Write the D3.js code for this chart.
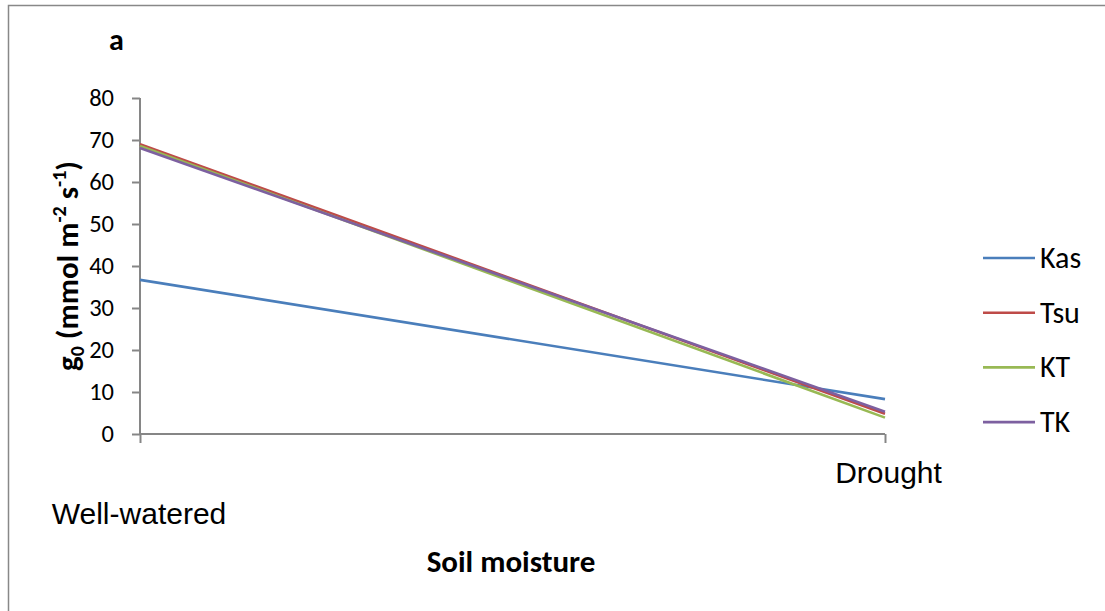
<!DOCTYPE html>
<html>
<head>
<meta charset="utf-8">
<script src="https://cdn.jsdelivr.net/npm/d3@7"></script>
<style>
  body { margin: 0; background: #fff; }
  svg { font-family: Carlito, Lato, "Open Sans", sans-serif; }
</style>
</head>
<body>
<svg id="chart" width="1105" height="611"></svg>
<script>
// categories and series
const categories = ["Well-watered", "Drought"];
const seriesNames = ["Kas", "Tsu", "KT", "TK"];
const kasValues = [36.7, 8.3];
const tsuValues = [69.0, 4.8];
const ktValues = [68.6, 3.9];
const tkValues = [68.1, 5.3];
const yTicks = [0, 10, 20, 30, 40, 50, 60, 70, 80];
const colors = ["#4a7ebb", "#be4b48", "#98b954", "#7d60a0"];

const series = seriesNames.map((name, i) => ({
  name: name,
  values: [kasValues, tsuValues, ktValues, tkValues][i],
  color: colors[i]
}));

const width = 1105;
const height = 611;
const fontFamily = "Carlito, Lato, 'Open Sans', sans-serif";
const svg = d3.select("#chart");

// outer frame (cut off on the right and bottom like the original)
svg.append("path")
  .attr("d", `M8.5,${height + 5} V5.5 H${width + 5}`)
  .attr("fill", "none")
  .attr("stroke", "#888")
  .attr("stroke-width", 1.5);

const margin = { top: 98, left: 140 };
const innerWidth = 745;
const innerHeight = 336;

const g = svg.append("g")
  .attr("transform", `translate(${margin.left},${margin.top})`);

const xScale = d3.scalePoint()
  .domain(categories)
  .range([0, innerWidth]);

const yScale = d3.scaleLinear()
  .domain([0, 80])
  .range([innerHeight, 0]);

// y axis
const yAxis = d3.axisLeft(yScale)
  .tickValues(yTicks)
  .tickSize(8)
  .tickPadding(18);

const yAxisG = g.append("g").call(yAxis)
  .attr("font-family", fontFamily);
yAxisG.select(".domain").attr("stroke", "#868686").attr("stroke-width", 2)
  .attr("d", `M0,0 V${innerHeight}`);
yAxisG.selectAll(".tick line").attr("stroke", "#868686").attr("stroke-width", 2);
yAxisG.selectAll(".tick text")
  .attr("font-size", 24.5)
  .attr("fill", "#000");

// x axis
const xAxis = d3.axisBottom(xScale).tickSize(9).tickFormat("");
const xAxisG = g.append("g")
  .attr("transform", `translate(0,${innerHeight})`)
  .attr("font-family", fontFamily)
  .call(xAxis);
xAxisG.select(".domain").attr("stroke", "#868686").attr("stroke-width", 2)
  .attr("d", `M0,0 H${innerWidth}`);
xAxisG.selectAll(".tick line").attr("stroke", "#868686").attr("stroke-width", 2);

// staggered category labels
xAxisG.selectAll(".cat-label")
  .data(categories)
  .enter()
  .append("text")
  .attr("class", "cat-label")
  .attr("x", (d) => xScale(d) + (d === "Drought" ? 3.5 : -1))
  .attr("y", (d, i) => i === 0 ? 90 : 49)
  .attr("text-anchor", "middle")
  .attr("font-size", 30)
  .attr("fill", "#000")
  .text((d) => d);

// lines
const line = d3.line()
  .x((d, i) => xScale(categories[i]))
  .y((d) => yScale(d));

g.selectAll(".series")
  .data(series)
  .enter()
  .append("path")
  .attr("class", "series")
  .attr("d", (d) => line(d.values))
  .attr("fill", "none")
  .attr("stroke", (d) => d.color)
  .attr("stroke-width", 2.6);

// title "a"
svg.append("text")
  .attr("x", 109)
  .attr("y", 50)
  .attr("font-size", 30)
  .attr("font-weight", "bold")
  .text("a");

// y axis label
const yLabel = svg.append("text")
  .attr("transform", "translate(78,266) rotate(-90)")
  .attr("text-anchor", "middle")
  .attr("font-size", 31)
  .attr("font-weight", "bold");
yLabel.append("tspan").text("g");
yLabel.append("tspan").attr("font-size", 20).attr("dy", 6).text("0");
yLabel.append("tspan").attr("dy", -6).text(" (mmol m");
yLabel.append("tspan").attr("font-size", 20).attr("dy", -12).text("-2");
yLabel.append("tspan").attr("dy", 12).text(" s");
yLabel.append("tspan").attr("font-size", 20).attr("dy", -12).text("-1");
yLabel.append("tspan").attr("dy", 12).text(")");

// x axis title
svg.append("text")
  .attr("x", 511)
  .attr("y", 572)
  .attr("text-anchor", "middle")
  .attr("font-size", 31)
  .attr("font-weight", "bold")
  .text("Soil moisture");

// legend
const legend = svg.append("g").attr("transform", "translate(983,258)");
const items = legend.selectAll(".item")
  .data(series)
  .enter()
  .append("g")
  .attr("class", "item")
  .attr("transform", (d, i) => `translate(0,${i * 54.7})`);
items.append("line")
  .attr("x1", 0).attr("x2", 52)
  .attr("stroke", (d) => d.color)
  .attr("stroke-width", 2.6);
items.append("text")
  .attr("x", 57)
  .attr("y", 10)
  .attr("font-size", 30)
  .text((d) => d.name);
</script>
</body>
</html>
